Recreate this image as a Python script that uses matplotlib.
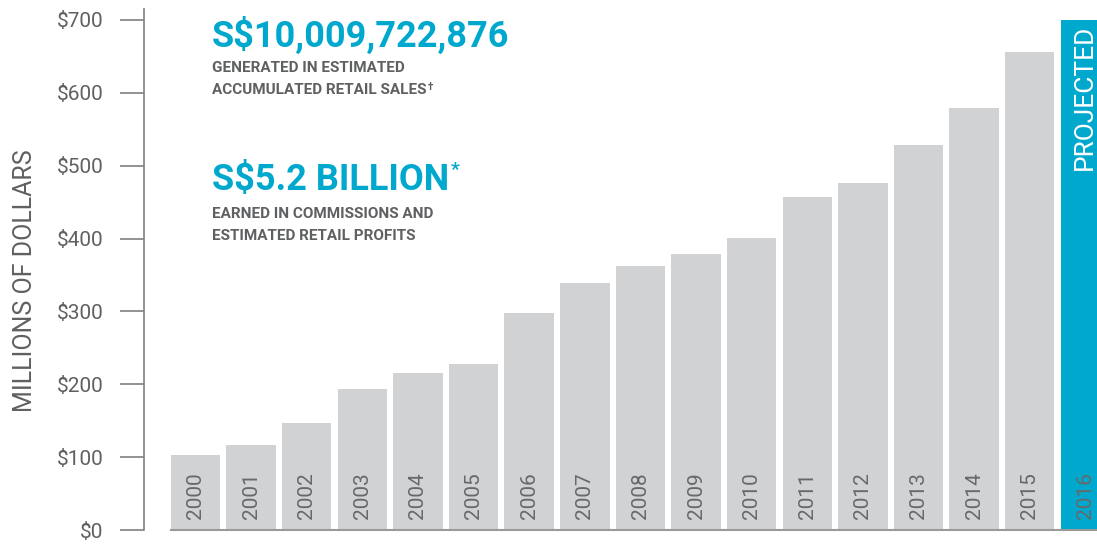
import matplotlib.pyplot as plt

plt.rcParams['font.family'] = ['Roboto', 'DejaVu Sans']

# data
years = ['2000', '2001', '2002', '2003', '2004', '2005', '2006', '2007', '2008',
         '2009', '2010', '2011', '2012', '2013', '2014', '2015', '2016']
sales = [103, 117, 147, 194, 215, 228, 298, 339, 362,
         379, 401, 457, 476, 528, 579, 656, 700]
yticks = [0, 100, 200, 300, 400, 500, 600, 700]
ytick_labels = ['$0', '$100', '$200', '$300', '$400', '$500', '$600', '$700']

grey_bar = '#D1D2D4'
blue = '#00A8CD'
text_grey = '#5f6062'

fig = plt.figure(figsize=(10.97, 5.45), dpi=100)
ax = fig.add_axes([144 / 1097, 15 / 545, 1 - 144 / 1097, 521 / 545])

colors = [grey_bar] * (len(years) - 1) + [blue]
ax.bar(range(len(years)), sales, width=0.89, color=colors, zorder=1)

# year labels inside the bars
for i, yr in enumerate(years):
    ax.text(i, 15, yr, rotation=90, ha='center', va='bottom',
            fontsize=15, color='#67686a', zorder=3)

ax.text(len(years) - 1, 694, 'PROJECTED', rotation=90, ha='center', va='top',
        fontsize=19, color='white', zorder=3)

ax.set_xlim(-0.926, 16.21)
ax.set_ylim(0, 715)
ax.set_yticks(yticks)
ax.set_yticklabels(ytick_labels)
ax.set_xticks([])
ax.tick_params(axis='y', length=17, width=1.2, color='#808080', pad=12,
               labelsize=15, labelcolor=text_grey)

for s in ['top', 'right']:
    ax.spines[s].set_visible(False)
ax.spines['left'].set_color('#808080')
ax.spines['left'].set_linewidth(1.2)
ax.spines['left'].set_bounds(0, 715)
ax.spines['bottom'].set_color('#9a9a9a')
ax.spines['bottom'].set_linewidth(1.5)
ax.spines['bottom'].set_bounds(-0.445, 17)
ax.spines['bottom'].set_zorder(2)

fig.text(25 / 1097, 0.5 - 8 / 545, 'MILLIONS OF DOLLARS', rotation=90,
         ha='center', va='center', fontsize=18, color=text_grey)

# headline annotations
def fy(px):
    return 1 - px / 545

x0 = 212 / 1097
fig.text(x0, fy(47), 'S$10,009,722,876', fontsize=26, fontweight='bold',
         color=blue, va='baseline')
fig.text(x0, fy(72), 'GENERATED IN ESTIMATED', fontsize=11, fontweight='bold',
         color=text_grey, va='baseline')
t1 = fig.text(x0, fy(94), 'ACCUMULATED RETAIL SALES', fontsize=11,
              fontweight='bold', color=text_grey, va='baseline')
big = fig.text(x0, fy(190), 'S$5.2 BILLION', fontsize=26, fontweight='bold',
               color=blue, va='baseline')
fig.text(x0, fy(218), 'EARNED IN COMMISSIONS AND', fontsize=11,
         fontweight='bold', color=text_grey, va='baseline')
fig.text(x0, fy(240), 'ESTIMATED RETAIL PROFITS', fontsize=11,
         fontweight='bold', color=text_grey, va='baseline')

fig.canvas.draw()
ax.annotate('\u2020', xy=(1, 1), xycoords=t1, xytext=(1, 1),
            textcoords='offset points', ha='left', va='top',
            fontsize=7, fontweight='bold', color=text_grey)
ax.annotate('*', xy=(1, 1), xycoords=big, xytext=(1, 1),
            textcoords='offset points', ha='left', va='top',
            fontsize=14, fontweight='bold', color=blue)

fig.savefig('out.png', dpi=100)
